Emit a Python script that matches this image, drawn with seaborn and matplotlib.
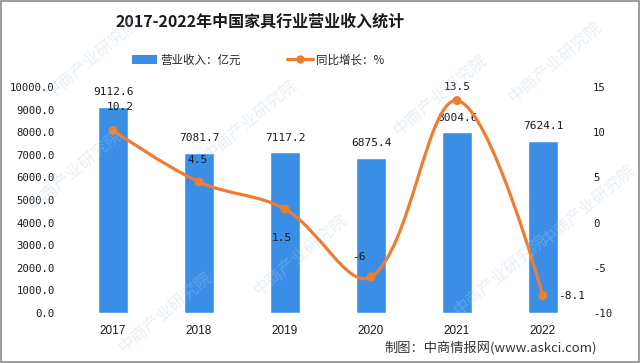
import numpy as np
import pandas as pd
import seaborn as sns
import matplotlib.pyplot as plt
from matplotlib.path import Path
from matplotlib.patches import PathPatch, Patch, Rectangle
from matplotlib.lines import Line2D

years = ["2017", "2018", "2019", "2020", "2021", "2022"]
revenue = [9112.6, 7081.7, 7117.2, 6875.4, 8004.6, 7624.1]
growth = [10.2, 4.5, 1.5, -6, 13.5, -8.1]
growth_labels = ["10.2", "4.5", "1.5", "-6", "13.5", "-8.1"]

BLUE = "#3a8ee6"
ORANGE = "#ed7d31"
TEXT = "#1a1a1a"
CJK = ["Noto Sans CJK SC", "DejaVu Sans"]
MONO = ["DejaVu Sans Mono", "Noto Sans CJK SC"]

sns.set_theme(style="white")
plt.rcParams["font.family"] = CJK

df = pd.DataFrame({"year": years, "revenue": revenue, "growth": growth})

fig = plt.figure(figsize=(6.4, 3.63), dpi=100, facecolor="white")
ax = fig.add_axes([70 / 640, 1 - 313 / 363, 516 / 640, 226 / 363])
ax2 = ax.twinx()

sns.barplot(data=df, x="year", y="revenue", ax=ax, color=BLUE,
            saturation=1, width=0.36, zorder=2)
ax.set_ylim(0, 10000)
ax.set_xlim(-0.5, 5.5)
ax.set_yticks(np.arange(0, 10001, 1000))
ax.set_yticklabels([f"{v:.1f}" for v in np.arange(0, 10001, 1000)],
                   family=MONO, fontsize=7.7, color=TEXT)
ax.set_xlabel("")
ax.set_ylabel("")
ax.tick_params(axis="x", length=0, pad=9, labelsize=8.5, labelcolor=TEXT)
ax.tick_params(axis="y", length=0, pad=11)
for lab in ax.get_xticklabels():
    lab.set_family(["Liberation Sans", "DejaVu Sans"])

for i, v in enumerate(revenue):
    ax.annotate(f"{v:.1f}", (i, v), xytext=(0, 10.5), textcoords="offset points",
                ha="center", va="center", family=MONO, fontsize=8, color=TEXT)

# smooth growth line (bezier through the points, drawn in data space)
ax2.set_ylim(-10, 15)
sx, sy = 86.0, 226 / 25
smooth = 0.36
P = np.column_stack([np.arange(len(growth)) * sx, np.array(growth) * sy])
verts = [tuple(P[0])]
codes = [Path.MOVETO]
n = len(P)
cps = []
for i in range(n):
    if i == 0 or i == n - 1:
        cps.append((P[i], P[i]))
        continue
    v = (P[i + 1] - P[i - 1]) * smooth
    d0 = np.linalg.norm(P[i] - P[i - 1])
    d1 = np.linalg.norm(P[i + 1] - P[i])
    cps.append((P[i] - v * d0 / (d0 + d1), P[i] + v * d1 / (d0 + d1)))
for i in range(n - 1):
    verts += [tuple(cps[i][1]), tuple(cps[i + 1][0]), tuple(P[i + 1])]
    codes += [Path.CURVE4] * 3
verts = [(x / sx, y / sy) for x, y in verts]
ax2.add_patch(PathPatch(Path(verts, codes), facecolor="none",
                        edgecolor=ORANGE, linewidth=2.3, zorder=3))
sns.scatterplot(x=np.arange(len(growth)), y=growth, ax=ax2, color=ORANGE,
                s=42, edgecolor="none", zorder=4)
ax2.set_yticks([-10, -5, 0, 5, 10, 15])
ax2.set_yticklabels(["-10", "-5", "0", "5", "10", "15"], family=MONO,
                    fontsize=7.7, color=TEXT)
ax2.tick_params(axis="y", length=0, pad=5)
ax2.set_xlim(-0.5, 5.5)

offsets = [(5, 16.5), (-1, 16), (-2, -21), (-9, 14), (0, 9.5), (11, 0)]
aligns = ["center", "center", "center", "center", "center", "left"]
for i, (v, t) in enumerate(zip(growth, growth_labels)):
    ax2.annotate(t, (i, v), xytext=offsets[i], textcoords="offset points",
                 ha=aligns[i], va="center", family=MONO, fontsize=8, color=TEXT)

for a in (ax, ax2):
    for s in a.spines.values():
        s.set_visible(False)
    a.grid(False)
    a.set_facecolor("none")

# faint watermark
for (wx, wy) in [(75, 170), (250, 120), (440, 95), (588, 205), (300, 255),
                 (500, 275), (165, 312), (555, 62), (92, 58)]:
    fig.text(wx / 640, 1 - wy / 363, "中商产业研究院", rotation=40, fontsize=12,
             color="#b3cbe8", alpha=0.3, ha="center", va="center", zorder=10)

fig.text(260 / 640, 1 - 22 / 363, "2017-2022年中国家具行业营业收入统计",
         ha="center", va="center", fontsize=11.5, weight="bold", color=TEXT)

handles = [Patch(facecolor=BLUE, edgecolor="none"),
           Line2D([0], [0], color=ORANGE, lw=2.3, marker="o", markersize=5)]
fig.legend(handles, ["营业收入：亿元", "同比增长：%"], ncol=2, loc="center",
           bbox_to_anchor=(258 / 640, 1 - 60 / 363), frameon=False,
           fontsize=8.3, handlelength=2.2, handleheight=0.8,
           columnspacing=4.0, handletextpad=0.3)

fig.text(597 / 640, 1 - 348 / 363, "制图：中商情报网(www.askci.com)",
         ha="right", va="center", fontsize=9.5, color="#333333")

fig.patches.append(Rectangle((0.001, 0.002), 0.997, 0.995, transform=fig.transFigure,
                             fill=False, edgecolor="#8c8c8c", linewidth=1.2))

fig.savefig("out.png", dpi=100, facecolor="white")
